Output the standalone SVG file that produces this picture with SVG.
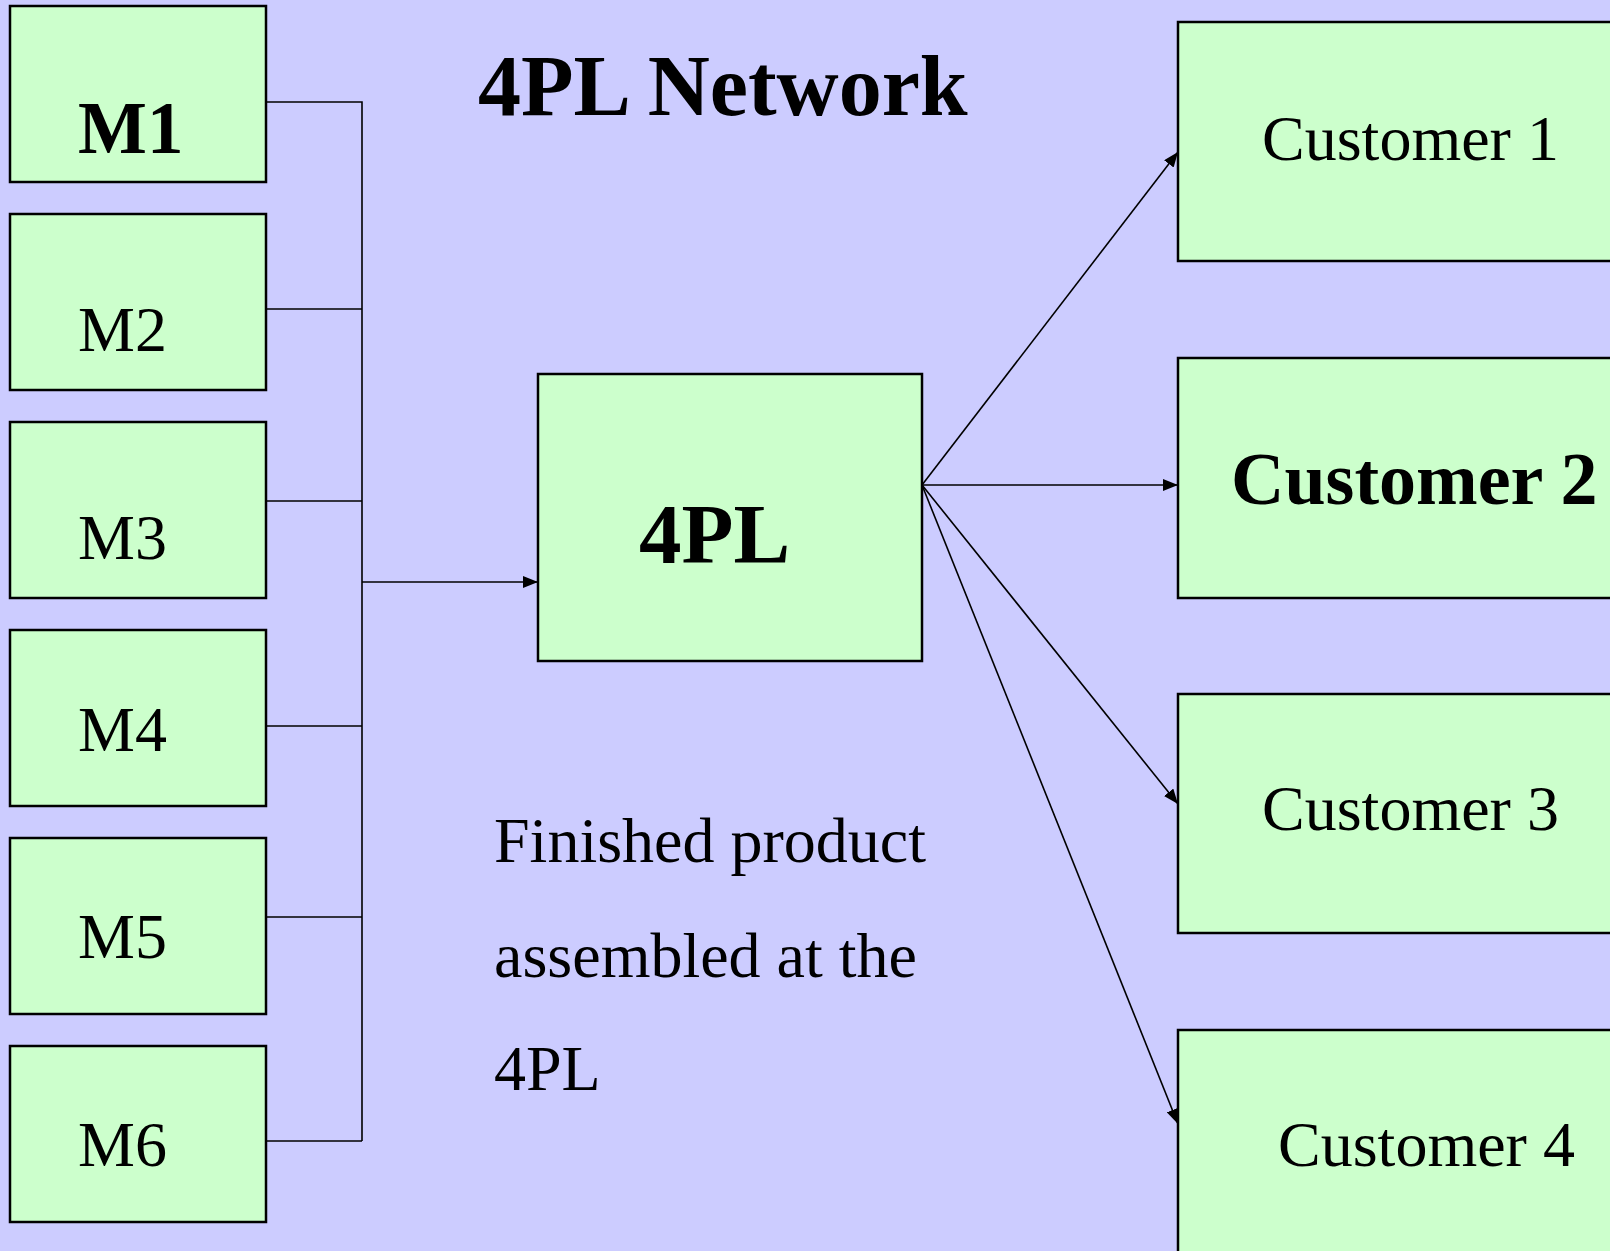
<svg xmlns="http://www.w3.org/2000/svg" width="1610" height="1251" viewBox="0 0 1610 1251">
<style>
.box{fill:#CCFFCC;stroke:#000;stroke-width:2.5}
.t{font-family:"Liberation Serif","Times New Roman",serif;fill:#000}
.r{font-size:64px}
.b{font-weight:bold}
.ln{fill:none;stroke:#000;stroke-width:1.6}
</style>
<defs>
<marker id="ah" markerUnits="userSpaceOnUse" markerWidth="16" markerHeight="12" refX="15" refY="6" orient="auto">
<path d="M0,0 L15,6 L0,12 Z" fill="#000"/>
</marker>
</defs>
<rect width="1610" height="1251" fill="#CCCCFF"/>
<text class="t b" x="478" y="115" font-size="86">4PL Network</text>
<g id="m1"><rect class="box" x="10" y="6" width="256" height="176"/><text class="t b" x="78" y="153" font-size="73">M1</text></g>
<g id="m2"><rect class="box" x="10" y="214" width="256" height="176"/><text class="t r" x="78" y="351">M2</text></g>
<g id="m3"><rect class="box" x="10" y="422" width="256" height="176"/><text class="t r" x="78" y="559">M3</text></g>
<g id="m4"><rect class="box" x="10" y="630" width="256" height="176"/><text class="t r" x="78" y="751">M4</text></g>
<g id="m5"><rect class="box" x="10" y="838" width="256" height="176"/><text class="t r" x="78" y="958">M5</text></g>
<g id="m6"><rect class="box" x="10" y="1046" width="256" height="176"/><text class="t r" x="78" y="1166">M6</text></g>
<g id="n4pl"><rect class="box" x="538" y="374" width="384" height="287"/><text class="t b" x="639" y="563" font-size="85">4PL</text></g>
<g id="c1"><rect class="box" x="1178" y="22" width="440" height="239"/><text class="t r" x="1262" y="160">Customer 1</text></g>
<g id="c2"><rect class="box" x="1178" y="358" width="440" height="240"/><text class="t b" x="1231" y="504" font-size="74">Customer 2</text></g>
<g id="c3"><rect class="box" x="1178" y="694" width="440" height="239"/><text class="t r" x="1262" y="830">Customer 3</text></g>
<g id="c4"><rect class="box" x="1178" y="1030" width="440" height="240"/><text class="t r" x="1278" y="1166">Customer 4</text></g>
<g id="note">
<text class="t r" x="494" y="862">Finished product</text>
<text class="t r" x="494" y="977">assembled at the</text>
<text class="t r" x="494" y="1090">4PL</text>
</g>
<g id="connectors">
<path class="ln" d="M266,102 H362 V1141 M266,309 H362 M266,501 H362 M266,726 H362 M266,917 H362 M266,1141 H362"/>
<line class="ln" x1="362" y1="582" x2="538" y2="582" marker-end="url(#ah)"/>
<line class="ln" x1="922" y1="485" x2="1178" y2="152" marker-end="url(#ah)"/>
<line class="ln" x1="922" y1="485" x2="1178" y2="485" marker-end="url(#ah)"/>
<line class="ln" x1="922" y1="485" x2="1178" y2="804" marker-end="url(#ah)"/>
<line class="ln" x1="922" y1="485" x2="1178" y2="1124" marker-end="url(#ah)"/>
</g>
</svg>
